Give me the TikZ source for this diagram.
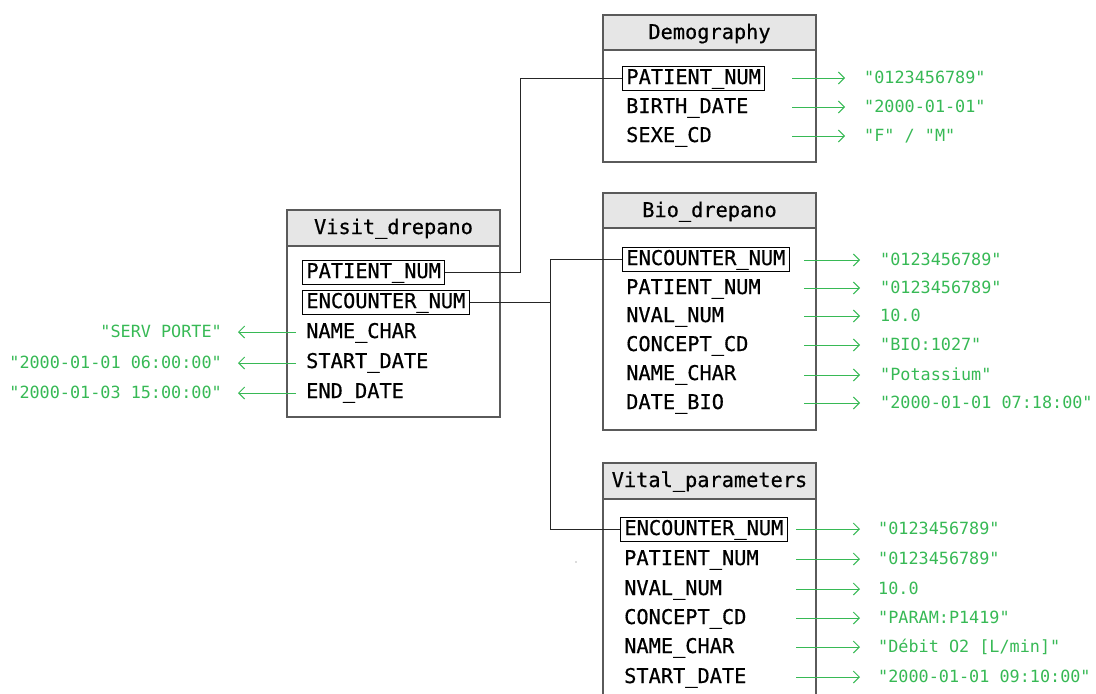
\documentclass[tikz,border=0pt]{standalone}
\usepackage{fontspec}
\newfontfamily\mono{DejaVu Sans Mono}
\newfontfamily\monob[FakeBold=0.6]{DejaVu Sans Mono}
\usetikzlibrary{arrows.meta}
\definecolor{gr}{RGB}{55,185,85}
\definecolor{framec}{RGB}{90,90,90}
\definecolor{hdr}{RGB}{230,230,230}
\begin{document}
\begin{tikzpicture}[x=1pt,y=-1pt,
  tbl/.style={draw=framec, line width=1.3pt},
  hdrbox/.style={draw=framec, fill=hdr, line width=1.3pt},
  title/.style={font=\monob\fontsize{20.3}{22}\selectfont, inner sep=0pt, text height=15pt, text depth=3pt},
  field/.style={font=\monob\fontsize{20.3}{22}\selectfont, anchor=west, inner xsep=4pt, inner ysep=3pt, text height=15pt, text depth=3pt},
  key/.style={field, draw=black, line width=0.9pt},
  val/.style={font=\mono\fontsize{16.8}{19}\selectfont, text=gr, anchor=west, inner sep=0pt, text height=12.5pt, text depth=2.5pt},
  lval/.style={val, anchor=east},
  garrow/.style={draw=gr, line width=1pt, -{Straight Barb[length=6pt,width=12pt]}},
  link/.style={draw=black!85, line width=1pt}
]
\useasboundingbox (0,0) rectangle (1096,694);

% ---------- Demography ----------
\draw[tbl] (603,15) rectangle (816,162);
\draw[hdrbox] (603,15) rectangle (816,50);
\node[title] (demo) at (709.5,33) {Demography};
\node[key]   (dpat) at (622,78)  {PATIENT\_NUM};
\node[field] (dbir) at (622,107) {BIRTH\_DATE};
\node[field] (dsex) at (622,136) {SEXE\_CD};
\node[val] (dv1) at (864,78)  {"0123456789"};
\node[val] (dv2) at (864,107) {"2000-01-01"};
\node[val] (dv3) at (864,136) {"F" / "M"};
\foreach \v in {dv1,dv2,dv3}
  \draw[garrow] ([xshift=-72pt]\v.west) -- ([xshift=-19pt]\v.west);

% ---------- Visit_drepano ----------
\draw[tbl] (287,210) rectangle (500,417);
\draw[hdrbox] (287,210) rectangle (500,246);
\node[title] (visit) at (393.5,228) {Visit\_drepano};
\node[key]   (vpat) at (302,272) {PATIENT\_NUM};
\node[key]   (venc) at (302,302) {ENCOUNTER\_NUM};
\node[field] (vnam) at (302,332) {NAME\_CHAR};
\node[field] (vsta) at (302,362) {START\_DATE};
\node[field] (vend) at (302,392) {END\_DATE};
\node[lval] (lv1) at (222,332) {"SERV PORTE"};
\node[lval] (lv2) at (222,363) {"2000-01-01 06:00:00"};
\node[lval] (lv3) at (222,393) {"2000-01-03 15:00:00"};
\foreach \v in {lv1,lv2,lv3}
  \draw[garrow] ([xshift=74pt]\v.east) -- ([xshift=16pt]\v.east);

% ---------- Bio_drepano ----------
\draw[tbl] (603,193) rectangle (816,430);
\draw[hdrbox] (603,193) rectangle (816,228);
\node[title] (bio) at (709.5,211) {Bio\_drepano};
\node[key]   (benc) at (622,259) {ENCOUNTER\_NUM};
\node[field] (bpat) at (622,288) {PATIENT\_NUM};
\node[field] (bnva) at (622,316) {NVAL\_NUM};
\node[field] (bcon) at (622,345) {CONCEPT\_CD};
\node[field] (bnam) at (622,374) {NAME\_CHAR};
\node[field] (bdat) at (622,403) {DATE\_BIO};
\node[val] (bv1) at (880,260) {"0123456789"};
\node[val] (bv2) at (880,288) {"0123456789"};
\node[val] (bv3) at (880,316) {10.0};
\node[val] (bv4) at (880,345) {"BIO:1027"};
\node[val] (bv5) at (880,375) {"Potassium"};
\node[val] (bv6) at (880,403) {"2000-01-01 07:18:00"};
\foreach \v in {bv1,bv2,bv3,bv4,bv5,bv6}
  \draw[garrow] ([xshift=-76pt]\v.west) -- ([xshift=-20pt]\v.west);

% ---------- Vital_parameters ----------
\draw[tbl] (603,694) -- (603,463) -- (816,463) -- (816,694);
\draw[hdrbox] (603,463) rectangle (816,499);
\node[title] (vital) at (709.5,481) {Vital\_parameters};
\node[key]   (tenc) at (620,529) {ENCOUNTER\_NUM};
\node[field] (tpat) at (620,559) {PATIENT\_NUM};
\node[field] (tnva) at (620,589) {NVAL\_NUM};
\node[field] (tcon) at (620,618) {CONCEPT\_CD};
\node[field] (tnam) at (620,647) {NAME\_CHAR};
\node[field] (tsta) at (620,677) {START\_DATE};
\node[val] (tv1) at (878,529) {"0123456789"};
\node[val] (tv2) at (878,559) {"0123456789"};
\node[val] (tv3) at (878,589) {10.0};
\node[val] (tv4) at (878,618) {"PARAM:P1419"};
\node[val] (tv5) at (878,647) {"Débit O2 [L/min]"};
\node[val] (tv6) at (878,677) {"2000-01-01 09:10:00"};
\foreach \v in {tv1,tv2,tv3,tv4,tv5,tv6}
  \draw[garrow] ([xshift=-82pt]\v.west) -- ([xshift=-18pt]\v.west);

% ---------- links ----------
\coordinate (j) at (550,302);
\draw[link] (vpat.east) -- ++(75,0) |- (dpat.west);
\draw[link] (benc.west) -| (j);
\draw[link] (venc.east) -- (j) |- (tenc.west);

\fill[black!60] (576,562) circle (0.7);
\end{tikzpicture}
\end{document}
